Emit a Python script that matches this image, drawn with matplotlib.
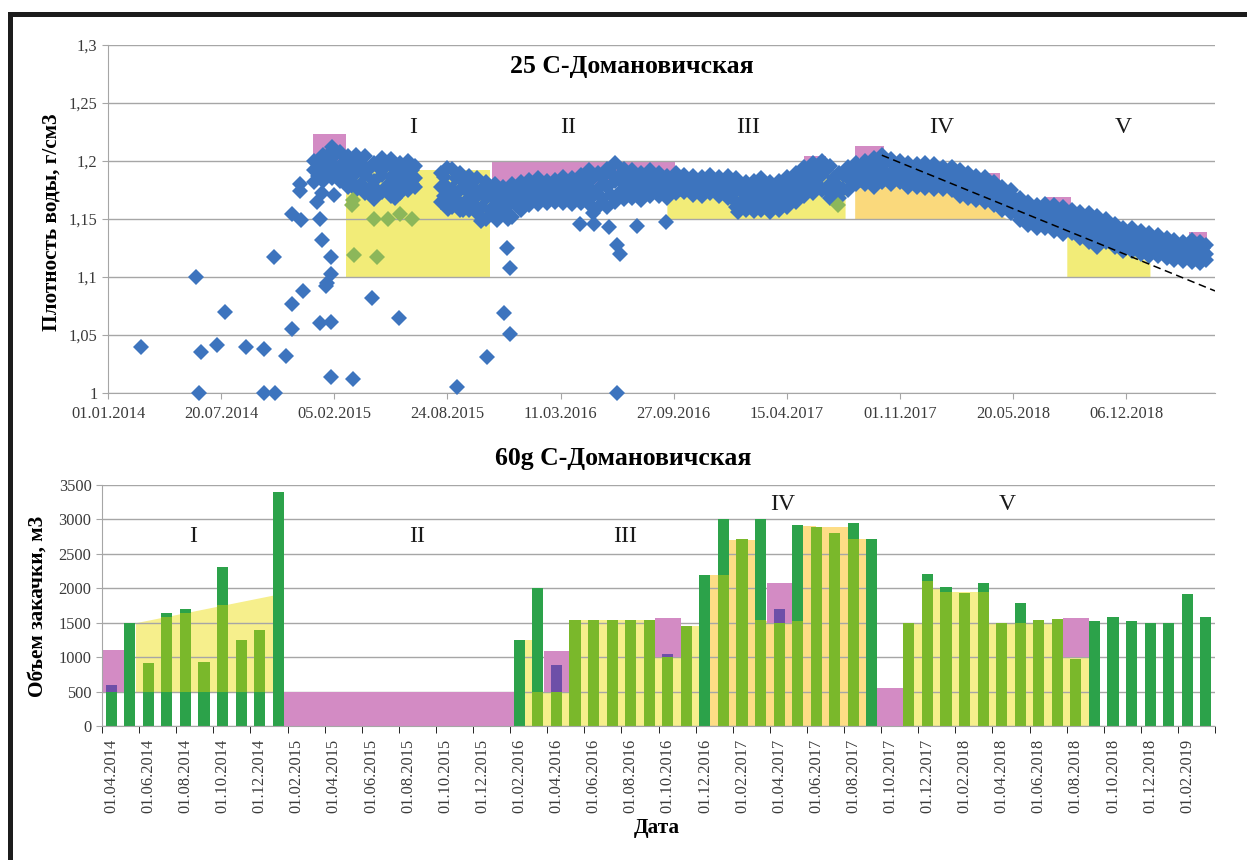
import matplotlib
matplotlib.use('Agg')
import matplotlib.pyplot as plt
import matplotlib.dates as mdates
from matplotlib.patches import Rectangle
import numpy as np
import pandas as pd

plt.rcParams['font.family'] = ['Liberation Serif', 'DejaVu Serif']

# ---------------- top chart: water density, well 25 ----------------
# isolated measurements
scatter_dates = ['2014-03-01', '2014-06-05', '2014-06-11', '2014-06-15', '2014-07-13', '2014-07-27',
                 '2014-09-02', '2014-10-04', '2014-10-04', '2014-10-21', '2014-10-24', '2014-11-11',
                 '2014-11-23', '2014-11-23', '2014-11-22', '2014-12-06', '2014-12-06', '2014-12-09',
                 '2014-12-12', '2015-01-05', '2015-01-14', '2015-01-11', '2015-01-15', '2015-01-11',
                 '2015-01-22', '2015-01-23', '2015-01-31', '2015-01-31', '2015-01-30', '2015-01-30',
                 '2015-02-05', '2015-03-10', '2015-04-13', '2015-05-31', '2015-05-23',
                 '2015-09-10', '2015-11-02', '2015-12-02', '2015-12-12', '2015-12-08', '2015-12-12',
                 '2016-06-18', '2016-06-18', '2016-06-24', '2016-04-14', '2016-05-07', '2016-05-10',
                 '2016-06-04', '2016-07-24', '2016-09-14', '2015-08-25', '2015-09-21', '2015-10-23',
                 '2015-11-19', '2015-12-09', '2017-01-19']
scatter_vals = [1.040, 1.100, 1.000, 1.035, 1.041, 1.070,
                1.040, 1.038, 1.000, 1.117, 1.000, 1.032,
                1.055, 1.077, 1.154, 1.180, 1.174, 1.149,
                1.088, 1.165, 1.172, 1.150, 1.132, 1.060,
                1.092, 1.095, 1.103, 1.117, 1.061, 1.014,
                1.171, 1.012, 1.082, 1.065, 1.168,
                1.005, 1.031, 1.069, 1.051, 1.125, 1.108,
                1.000, 1.128, 1.120, 1.146, 1.155, 1.146,
                1.143, 1.144, 1.147, 1.159, 1.158, 1.148,
                1.149, 1.150, 1.156]

# dense measurement band: upper, middle and lower readings (1st and 16th of month)
band_dates = ['2015-01-01', '2015-01-16', '2015-02-01', '2015-02-16', '2015-03-01', '2015-03-16',
              '2015-04-01', '2015-04-16', '2015-05-01', '2015-05-16', '2015-06-01', '2015-06-16',
              '2015-06-28', '2015-08-12', '2015-08-24', '2015-09-01', '2015-09-16', '2015-10-01',
              '2015-10-16', '2015-11-01', '2015-11-16', '2015-12-01', '2015-12-16', '2016-01-01',
              '2016-01-16', '2016-02-01', '2016-02-16', '2016-03-01', '2016-03-16', '2016-04-01',
              '2016-04-16', '2016-05-01', '2016-05-16', '2016-06-01', '2016-06-16', '2016-07-01',
              '2016-07-16', '2016-08-01', '2016-08-16', '2016-09-01', '2016-09-16', '2016-10-01',
              '2016-10-16', '2016-11-01', '2016-11-16', '2016-12-01', '2016-12-16', '2017-01-01',
              '2017-01-16', '2017-02-01', '2017-02-16', '2017-03-01', '2017-03-16', '2017-04-01',
              '2017-04-16', '2017-05-01', '2017-05-16', '2017-06-01', '2017-06-16', '2017-07-01',
              '2017-07-16', '2017-08-01', '2017-08-16', '2017-09-01', '2017-09-16', '2017-10-01',
              '2017-10-16', '2017-11-01', '2017-11-16', '2017-12-01', '2017-12-16', '2018-01-01',
              '2018-01-16', '2018-02-01', '2018-02-16', '2018-03-01', '2018-03-16', '2018-04-01',
              '2018-04-16', '2018-05-01', '2018-05-16', '2018-06-01', '2018-06-16', '2018-07-01',
              '2018-07-16', '2018-08-01', '2018-08-16', '2018-09-01', '2018-09-16', '2018-10-01',
              '2018-10-16', '2018-11-01', '2018-11-16', '2018-12-01', '2018-12-16', '2019-01-01',
              '2019-01-16', '2019-02-01', '2019-02-16', '2019-03-01', '2019-03-16', '2019-04-01',
              '2019-04-16', '2019-04-26']
band_hi = [1.200, 1.205, 1.212, 1.208, 1.204, 1.205, 1.204, 1.198, 1.203, 1.202, 1.198, 1.200,
           1.196, 1.190, 1.194, 1.193, 1.190, 1.187, 1.185, 1.182, 1.180, 1.178, 1.180, 1.182,
           1.184, 1.185, 1.183, 1.184, 1.186, 1.185, 1.188, 1.192, 1.190, 1.193, 1.198, 1.193,
           1.192, 1.190, 1.192, 1.190, 1.187, 1.190, 1.188, 1.187, 1.186, 1.188, 1.186, 1.187,
           1.185, 1.182, 1.183, 1.185, 1.182, 1.183, 1.186, 1.190, 1.195, 1.198, 1.200, 1.196,
           1.190, 1.195, 1.198, 1.200, 1.203, 1.205, 1.202, 1.200, 1.198, 1.197, 1.198, 1.197,
           1.195, 1.195, 1.192, 1.190, 1.187, 1.186, 1.182, 1.178, 1.175, 1.168, 1.165, 1.162,
           1.163, 1.162, 1.160, 1.158, 1.156, 1.155, 1.153, 1.150, 1.146, 1.142, 1.142, 1.140,
           1.138, 1.136, 1.134, 1.132, 1.130, 1.132, 1.130, 1.128]
band_mid = [1.192, 1.195, 1.198, 1.195, 1.190, 1.190, 1.188, 1.183, 1.188, 1.186, 1.185, 1.187,
            1.185, 1.178, 1.178, 1.176, 1.175, 1.172, 1.170, 1.168, 1.166, 1.165, 1.168, 1.170,
            1.172, 1.173, 1.172, 1.173, 1.174, 1.174, 1.176, 1.178, 1.176, 1.178, 1.183, 1.180,
            1.180, 1.178, 1.180, 1.180, 1.178, 1.180, 1.180, 1.179, 1.178, 1.180, 1.178, 1.178,
            1.174, 1.170, 1.170, 1.172, 1.170, 1.170, 1.173, 1.178, 1.183, 1.186, 1.188, 1.180,
            1.178, 1.185, 1.188, 1.190, 1.190, 1.193, 1.190, 1.190, 1.188, 1.187, 1.188, 1.186,
            1.185, 1.184, 1.180, 1.178, 1.176, 1.175, 1.172, 1.167, 1.165, 1.158, 1.155, 1.152,
            1.152, 1.150, 1.148, 1.148, 1.145, 1.143, 1.140, 1.140, 1.136, 1.132, 1.132, 1.130,
            1.128, 1.127, 1.125, 1.124, 1.122, 1.122, 1.121, 1.120]
band_lo = [1.182, 1.183, 1.185, 1.183, 1.178, 1.175, 1.172, 1.167, 1.173, 1.170, 1.172, 1.175,
           1.178, 1.165, 1.162, 1.160, 1.158, 1.158, 1.155, 1.150, 1.152, 1.155, 1.152, 1.158,
           1.162, 1.163, 1.164, 1.165, 1.164, 1.163, 1.164, 1.163, 1.160, 1.160, 1.165, 1.167,
           1.168, 1.166, 1.170, 1.170, 1.168, 1.172, 1.173, 1.171, 1.170, 1.172, 1.170, 1.168,
           1.160, 1.158, 1.157, 1.158, 1.156, 1.158, 1.160, 1.165, 1.170, 1.172, 1.175, 1.168,
           1.168, 1.175, 1.180, 1.180, 1.178, 1.182, 1.180, 1.182, 1.178, 1.178, 1.177, 1.176,
           1.176, 1.175, 1.170, 1.168, 1.166, 1.165, 1.162, 1.158, 1.155, 1.149, 1.145, 1.142,
           1.142, 1.140, 1.137, 1.138, 1.134, 1.130, 1.126, 1.130, 1.126, 1.122, 1.122, 1.120,
           1.118, 1.118, 1.116, 1.115, 1.114, 1.113, 1.112, 1.115]

# second set of band readings (8th and 24th of month)
band2_dates = ['2015-01-08', '2015-01-24', '2015-02-08', '2015-02-24', '2015-03-08', '2015-03-24',
               '2015-04-08', '2015-04-24', '2015-05-08', '2015-05-24', '2015-06-08', '2015-06-22',
               '2015-08-18', '2015-09-08', '2015-09-24', '2015-10-08', '2015-10-24', '2015-11-08',
               '2015-11-24', '2015-12-08', '2015-12-24', '2016-01-08', '2016-01-24', '2016-02-08',
               '2016-02-24', '2016-03-08', '2016-03-24', '2016-04-08', '2016-04-24', '2016-05-08',
               '2016-05-24', '2016-06-08', '2016-06-24', '2016-07-08', '2016-07-24', '2016-08-08',
               '2016-08-24', '2016-09-08', '2016-09-24', '2016-10-08', '2016-10-24', '2016-11-08',
               '2016-11-24', '2016-12-08', '2016-12-24', '2017-01-08', '2017-01-24', '2017-02-08',
               '2017-02-24', '2017-03-08', '2017-03-24', '2017-04-08', '2017-04-24', '2017-05-08',
               '2017-05-24', '2017-06-08', '2017-06-24', '2017-07-08', '2017-07-24', '2017-08-08',
               '2017-08-24', '2017-09-08', '2017-09-24', '2017-10-08', '2017-10-24', '2017-11-08',
               '2017-11-24', '2017-12-08', '2017-12-24', '2018-01-08', '2018-01-24', '2018-02-08',
               '2018-02-24', '2018-03-08', '2018-03-24', '2018-04-08', '2018-04-24', '2018-05-08',
               '2018-05-24', '2018-06-08', '2018-06-24', '2018-07-08', '2018-07-24', '2018-08-08',
               '2018-08-24', '2018-09-08', '2018-09-24', '2018-10-08', '2018-10-24', '2018-11-08',
               '2018-11-24', '2018-12-08', '2018-12-24', '2019-01-08', '2019-01-24', '2019-02-08',
               '2019-02-24', '2019-03-08', '2019-03-24', '2019-04-08', '2019-04-20']
band2_up = [1.198, 1.204, 1.206, 1.200, 1.198, 1.197, 1.193, 1.195, 1.196, 1.193, 1.194, 1.192,
            1.186, 1.185, 1.181, 1.178, 1.176, 1.175, 1.172, 1.173, 1.176, 1.178, 1.179, 1.178,
            1.179, 1.180, 1.180, 1.181, 1.184, 1.185, 1.185, 1.190, 1.188, 1.186, 1.185, 1.185,
            1.186, 1.183, 1.184, 1.185, 1.184, 1.182, 1.184, 1.183, 1.182, 1.180, 1.177, 1.176,
            1.178, 1.176, 1.176, 1.178, 1.183, 1.188, 1.191, 1.194, 1.192, 1.185, 1.188, 1.192,
            1.194, 1.196, 1.198, 1.199, 1.196, 1.194, 1.193, 1.193, 1.192, 1.191, 1.190, 1.188,
            1.185, 1.182, 1.181, 1.179, 1.175, 1.171, 1.167, 1.162, 1.158, 1.157, 1.157, 1.155,
            1.153, 1.152, 1.150, 1.148, 1.146, 1.145, 1.140, 1.137, 1.136, 1.134, 1.133, 1.131,
            1.129, 1.128, 1.126, 1.127, 1.125]
band2_dn = [1.187, 1.190, 1.189, 1.184, 1.182, 1.180, 1.176, 1.174, 1.178, 1.177, 1.178, 1.180,
            1.170, 1.167, 1.165, 1.163, 1.160, 1.158, 1.159, 1.160, 1.162, 1.165, 1.167, 1.168,
            1.168, 1.169, 1.168, 1.169, 1.170, 1.170, 1.168, 1.171, 1.173, 1.174, 1.172, 1.174,
            1.175, 1.174, 1.176, 1.176, 1.175, 1.174, 1.175, 1.175, 1.173, 1.168, 1.164, 1.163,
            1.164, 1.163, 1.163, 1.165, 1.169, 1.174, 1.178, 1.180, 1.176, 1.173, 1.176, 1.182,
            1.184, 1.185, 1.186, 1.187, 1.186, 1.184, 1.183, 1.182, 1.182, 1.181, 1.180, 1.177,
            1.174, 1.172, 1.170, 1.168, 1.165, 1.162, 1.157, 1.152, 1.148, 1.147, 1.147, 1.144,
            1.142, 1.141, 1.138, 1.135, 1.133, 1.135, 1.130, 1.127, 1.126, 1.124, 1.123, 1.122,
            1.120, 1.119, 1.118, 1.117, 1.117]

# points inside zone I (drawn green)
green_dates = ['2015-03-11', '2015-03-09', '2015-04-16', '2015-05-11', '2015-06-01', '2015-06-22',
               '2015-03-12', '2015-04-21', '2017-07-14']
green_vals = [1.166, 1.162, 1.150, 1.150, 1.154, 1.150, 1.119, 1.117, 1.162]

# shaded boxes (start, end, low, high)
pink_top_start = ['2014-12-29', '2015-11-11', '2017-05-15', '2017-08-13', '2018-03-28', '2018-07-17', '2019-03-27']
pink_top_end = ['2015-02-25', '2016-09-29', '2017-06-23', '2017-10-04', '2018-04-27', '2018-08-30', '2019-04-28']
pink_top_low = [1.200, 1.180, 1.195, 1.203, 1.178, 1.158, 1.128]
pink_top_high = [1.223, 1.200, 1.204, 1.213, 1.190, 1.169, 1.139]

zone1_dates = ['2015-02-25', '2015-11-07']
zone1_top = [1.192, 1.192]
zone3_dates = ['2016-09-15', '2017-05-01', '2017-06-20', '2017-07-27']
zone3_top = [1.178, 1.178, 1.190, 1.190]
zone4_dates = ['2017-08-13', '2018-02-01', '2018-05-09']
zone4_top = [1.186, 1.180, 1.150]
zone5_dates = ['2018-08-23', '2018-10-20', '2018-11-15', '2019-01-17']
zone5_top = [1.140, 1.126, 1.130, 1.112]

trend_dates = ['2017-09-30', '2019-05-12']
trend_vals = [1.205, 1.088]

top_ticks = ['2014-01-01', '2014-07-20', '2015-02-05', '2015-08-24', '2016-03-11',
             '2016-09-27', '2017-04-15', '2017-11-01', '2018-05-20', '2018-12-06']
density_ticks = [1.0, 1.05, 1.1, 1.15, 1.2, 1.25, 1.3]
density_labels = ['1', '1,05', '1,1', '1,15', '1,2', '1,25', '1,3']

# ---------------- bottom chart: injection, well 60g ----------------
months = ['01.04.2014', '01.05.2014', '01.06.2014', '01.07.2014', '01.08.2014', '01.09.2014',
          '01.10.2014', '01.11.2014', '01.12.2014', '01.01.2015', '01.02.2015', '01.03.2015',
          '01.04.2015', '01.05.2015', '01.06.2015', '01.07.2015', '01.08.2015', '01.09.2015',
          '01.10.2015', '01.11.2015', '01.12.2015', '01.01.2016', '01.02.2016', '01.03.2016',
          '01.04.2016', '01.05.2016', '01.06.2016', '01.07.2016', '01.08.2016', '01.09.2016',
          '01.10.2016', '01.11.2016', '01.12.2016', '01.01.2017', '01.02.2017', '01.03.2017',
          '01.04.2017', '01.05.2017', '01.06.2017', '01.07.2017', '01.08.2017', '01.09.2017',
          '01.10.2017', '01.11.2017', '01.12.2017', '01.01.2018', '01.02.2018', '01.03.2018',
          '01.04.2018', '01.05.2018', '01.06.2018', '01.07.2018', '01.08.2018', '01.09.2018',
          '01.10.2018', '01.11.2018', '01.12.2018', '01.01.2019', '01.02.2019', '01.03.2019']
injection = [600, 1500, 920, 1645, 1695, 935, 2305, 1250, 1395, 3400,
             0, 0, 0, 0, 0, 0, 0, 0, 0, 0, 0, 0,
             1250, 2000, 885, 1540, 1540, 1540, 1540, 1540, 1050, 1450,
             2200, 3000, 2710, 3010, 1695, 2920, 2885, 2800, 2950, 2720,
             0, 1500, 2205, 2025, 1925, 2080, 1500, 1790, 1540, 1560, 980,
             1530, 1580, 1530, 1500, 1500, 1915, 1590]

# parts of the bars lying inside the planned zones
light_idx = [2, 3, 4, 5, 6, 7, 8,
             23, 24, 25, 26, 27, 28, 29, 30, 31,
             33, 34, 35, 36, 37, 38, 39, 40,
             43, 44, 45, 46, 47, 48, 49, 50, 51, 52]
light_from = [500] * 7 + [0] * 27
light_to = [920, 1590, 1645, 935, 1760, 1250, 1395,
            500, 500, 1540, 1540, 1540, 1540, 1540, 1000, 1450,
            2200, 2710, 1540, 1500, 1520, 2885, 2800, 2720,
            1500, 2100, 1945, 1925, 1940, 1500, 1500, 1540, 1560, 980]

# planned zones between bars
plan1_x = [1.3, 8.7]
plan1_top = [1500, 1900]
plan3_start = 22
plan3 = [1250, 500, 500, 1540, 1540, 1540, 1540, 1540, 1000, 1450]
plan4_start = 32
plan4 = [2200, 2700, 2700, 1530, 1500, 2900, 2890, 2890, 2720]
plan5_start = 43
plan5 = [1500, 2000, 1940, 1940, 1500, 1500, 1500, 1500, 1000, 1000]

pink_bot_x0 = [-0.5, 9.3, 23.35, 29.3, 35.35, 41.3, 51.3]
pink_bot_x1 = [0.7, 21.7, 24.65, 30.7, 36.7, 42.7, 52.7]
pink_bot_low = [500, 0, 500, 1000, 1500, 0, 1000]
pink_bot_high = [1100, 500, 1090, 1570, 2080, 550, 1565]

BLUE = '#3D74BE'
GREEN_PT = '#8CB75A'
YELLOW = '#F2EC78'
ORANGE = '#FAD97C'
PINK = '#D38BC4'
DARK_GREEN = '#2CA24A'
LIGHT_GREEN = '#7AB82B'
PLAN_YELLOW = '#F6EF8C'
PLAN_ORANGE = '#FDDD86'
PURPLE = '#6E4FA8'
GRID = '#A6A6A6'
TICK_TXT = '#3A3A3A'

W, H = 1247, 860
fig = plt.figure(figsize=(W / 100, H / 100), dpi=100)
fig.patch.set_facecolor('white')

# ---------- top axes ----------
ax1 = fig.add_axes([108 / W, 1 - 393 / H, (1215 - 108) / W, (393 - 45) / H])
d = pd.to_datetime

for s, e, lo, hi in zip(pink_top_start, pink_top_end, pink_top_low, pink_top_high):
    x0 = mdates.date2num(d(s))
    x1 = mdates.date2num(d(e))
    ax1.add_patch(Rectangle((x0, lo), x1 - x0, hi - lo, color=PINK, lw=0, zorder=1))

ax1.fill_between(d(zone1_dates), 1.1, zone1_top, color=YELLOW, lw=0, zorder=1)
ax1.fill_between(d(zone3_dates), 1.15, zone3_top, color=YELLOW, lw=0, zorder=1)
ax1.fill_between(d(zone4_dates), 1.15, zone4_top, color=ORANGE, lw=0, zorder=1)
ax1.fill_between(d(zone5_dates), 1.1, zone5_top, color=YELLOW, lw=0, zorder=1)

all_dates = d(scatter_dates + band_dates * 3 + band2_dates * 2)
all_vals = scatter_vals + band_hi + band_mid + band_lo + band2_up + band2_dn
ax1.plot(all_dates, all_vals, 'D', ms=7.8, mew=0, color=BLUE, zorder=3, clip_on=False)
ax1.plot(d(green_dates), green_vals, 'D', ms=7.8, mew=0, color=GREEN_PT, zorder=3)
ax1.plot(d(trend_dates), trend_vals, color='black', lw=1.1, dashes=(5, 3), zorder=4)

ax1.set_xlim(d('2014-01-01'), d('2019-05-12'))
ax1.set_ylim(1.0, 1.3)
ax1.set_xticks(d(top_ticks))
ax1.set_xticklabels([d(t).strftime('%d.%m.%Y') for t in top_ticks])
ax1.set_yticks(density_ticks)
ax1.set_yticklabels(density_labels)
ax1.set_axisbelow('line')
ax1.grid(axis='y', color=GRID, lw=1)
ax1.grid(axis='x', visible=False)
for sp in ['top', 'right']:
    ax1.spines[sp].set_visible(False)
for sp in ['left', 'bottom']:
    ax1.spines[sp].set_color(GRID)
ax1.tick_params(axis='both', colors=GRID, labelcolor=TICK_TXT, labelsize=11.8, length=4)
ax1.tick_params(axis='x', pad=5)

for txt, dt in zip(['I', 'II', 'III', 'IV', 'V'],
                   ['2015-06-24', '2016-03-24', '2017-02-05', '2018-01-14', '2018-12-01']):
    ax1.text(d(dt), 1.229, txt, ha='center', va='center', fontsize=17, color='#1a1a1a')

# ---------- bottom axes ----------
ax2 = fig.add_axes([102 / W, 1 - 726 / H, (1215 - 102) / W, (726 - 485) / H])
idx = np.arange(len(months))
bw = 0.6

ax2.fill_between(plan1_x, 500, plan1_top, color=PLAN_YELLOW, lw=0, zorder=1)
for start, vals, col in [(plan3_start, plan3, PLAN_YELLOW), (plan4_start, plan4, PLAN_ORANGE),
                         (plan5_start, plan5, PLAN_YELLOW)]:
    xs = np.arange(start, start + len(vals) + 1)
    ax2.fill_between(xs, 0, vals + [vals[-1]], step='post', color=col, lw=0, zorder=1)

ax2.bar(idx, injection, width=bw, color=DARK_GREEN, lw=0, zorder=2)
ax2.bar(light_idx, np.array(light_to) - np.array(light_from), bottom=light_from,
        width=bw, color=LIGHT_GREEN, lw=0, zorder=2.2)

inj = np.array(injection)
for x0, x1, lo, hi in zip(pink_bot_x0, pink_bot_x1, pink_bot_low, pink_bot_high):
    ax2.add_patch(Rectangle((x0, lo), x1 - x0, hi - lo, color=PINK, lw=0, zorder=2.5))
    inside = (idx > x0) & (idx < x1) & (inj > lo)
    tops = np.minimum(inj[inside], hi)
    ax2.bar(idx[inside], tops - lo, bottom=lo, width=bw, color=PURPLE, lw=0, zorder=2.6)

ax2.set_xlim(-0.5, len(months) - 0.5)
ax2.set_ylim(0, 3500)
ax2.set_yticks(np.arange(0, 3501, 500))
ax2.set_xticks(idx[::2])
ax2.set_xticklabels(months[::2], rotation=90)
ax2.set_xticks(np.arange(-0.5, len(months), 2), minor=True)
ax2.set_axisbelow('line')
ax2.grid(axis='y', color=GRID, lw=1, zorder=1.5)
for sp in ['top', 'right']:
    ax2.spines[sp].set_visible(False)
for sp in ['left', 'bottom']:
    ax2.spines[sp].set_color(GRID)
ax2.tick_params(axis='both', colors=GRID, labelcolor=TICK_TXT, labelsize=11.8)
ax2.tick_params(axis='x', which='major', length=0, pad=9)
ax2.tick_params(axis='x', which='minor', length=5)
ax2.tick_params(axis='y', length=4)

for txt, xi, yv in [('I', 4.4, 2745), ('II', 16.5, 2745), ('III', 27.7, 2745),
                    ('IV', 36.2, 3210), ('V', 48.3, 3210)]:
    ax2.text(xi, yv, txt, ha='center', va='center', fontsize=17, color='#1a1a1a')

# ---------- titles and labels ----------
fig.text(632 / W, 1 - 67 / H, '25 С-Домановичская', ha='center', va='center',
         fontsize=18.5, fontweight='bold')
fig.text(623 / W, 1 - 458 / H, '60g С-Домановичская', ha='center', va='center',
         fontsize=18.5, fontweight='bold')
fig.text(52 / W, 1 - 222 / H, 'Плотность воды, г/см3', ha='center', va='center',
         rotation=90, fontsize=15.3, fontweight='bold')
fig.text(38 / W, 1 - 606 / H, 'Объем закачки, м3', ha='center', va='center',
         rotation=90, fontsize=15.3, fontweight='bold')
fig.text(657 / W, 1 - 828 / H, 'Дата', ha='center', va='center', fontsize=15.3, fontweight='bold')

# dark frame on the left and top
fig.add_artist(Rectangle((8 / W, 0), 4.5 / W, (H - 13) / H, transform=fig.transFigure,
                         color='#1c1c1c', lw=0))
fig.add_artist(Rectangle((8 / W, 1 - 17 / H), 1, 4.5 / H, transform=fig.transFigure,
                         color='#1c1c1c', lw=0))

fig.savefig('out.png', dpi=100)
